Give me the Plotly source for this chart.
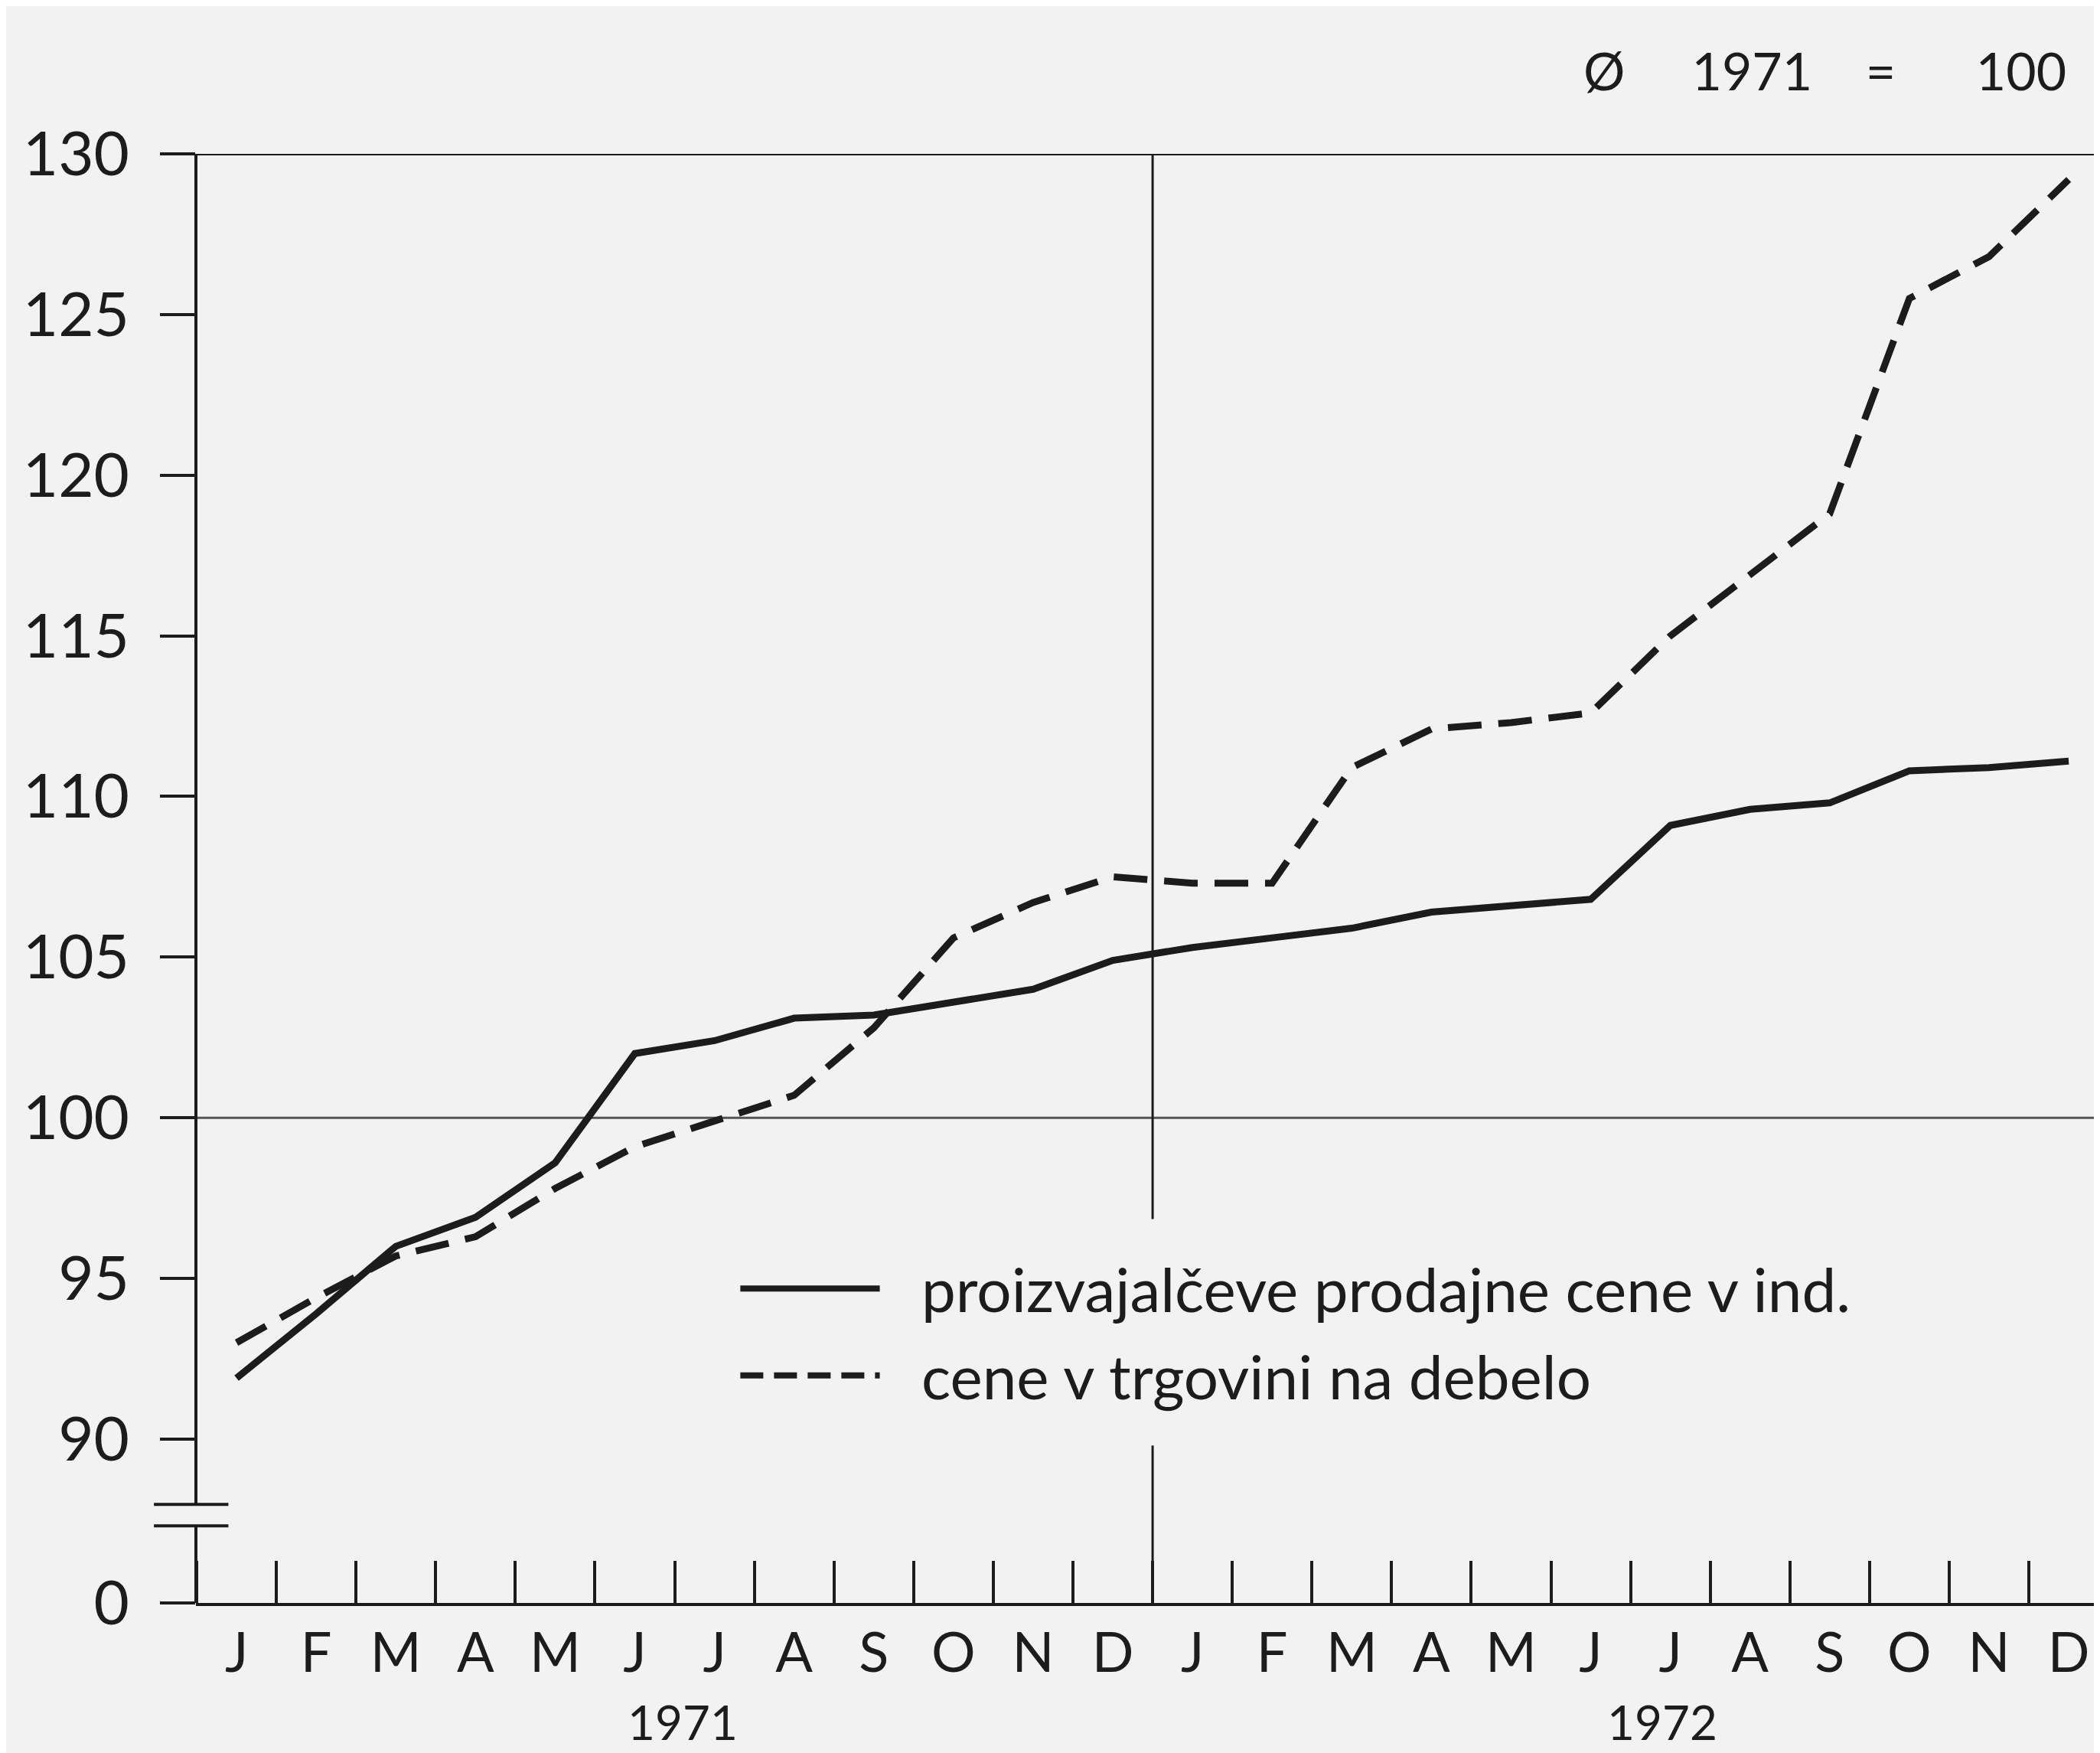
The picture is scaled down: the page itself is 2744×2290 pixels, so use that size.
import plotly.graph_objects as go

# months of 1971 and 1972
months = ["J", "F", "M", "A", "M", "J", "J", "A", "S", "O", "N", "D"] * 2
years = ["1971", "1972"]

# index, average 1971 = 100
producer_prices = [91.9, 93.9, 96.0, 96.9, 98.6, 102.0, 102.4, 103.1, 103.2, 103.6, 104.0, 104.9,
                   105.3, 105.6, 105.9, 106.4, 106.6, 106.8, 109.1, 109.6, 109.8, 110.8, 110.9, 111.1]
wholesale_prices = [93.0, 94.4, 95.7, 96.3, 97.8, 99.1, 99.9, 100.7, 102.8, 105.6, 106.7, 107.5,
                    107.3, 107.3, 110.9, 112.1, 112.3, 112.6, 115.0, 116.9, 118.8, 125.5, 126.8, 129.2]

series_names = ["proizvajalčeve prodajne cene v ind.", "cene v trgovini na debelo"]

# broken y axis: the "0" sits just below the break
y_floor = 84.9
ytick_vals = [y_floor, 90, 95, 100, 105, 110, 115, 120, 125, 130]
ytick_text = ["0", "90", "95", "100", "105", "110", "115", "120", "125", "130"]

ink = "#1c1c1c"
bg = "#f2f2f2"
font = "Lato"

x = list(range(len(months)))

fig = go.Figure()
fig.add_trace(go.Scatter(
    x=x, y=producer_prices, mode="lines", name=series_names[0],
    line=dict(color=ink, width=9), showlegend=False,
))
fig.add_trace(go.Scatter(
    x=x, y=wholesale_prices, mode="lines", name=series_names[1],
    line=dict(color=ink, width=9, dash="44px,22px"), showlegend=False,
))

shapes = [
    # y axis with a break
    dict(type="line", xref="paper", yref="y", x0=0, x1=0, y0=y_floor, y1=87.3,
         line=dict(color=ink, width=4)),
    dict(type="line", xref="paper", yref="y", x0=0, x1=0, y0=87.97, y1=130,
         line=dict(color=ink, width=4)),
    dict(type="line", xref="paper", yref="y", x0=-0.022, x1=0.017, y0=87.3, y1=87.3,
         line=dict(color=ink, width=4)),
    dict(type="line", xref="paper", yref="y", x0=-0.022, x1=0.017, y0=87.97, y1=87.97,
         line=dict(color=ink, width=4)),
    # top frame line and base 100 line
    dict(type="line", xref="paper", yref="y", x0=0, x1=1, y0=130, y1=130,
         line=dict(color=ink, width=4)),
    dict(type="line", xref="paper", yref="y", x0=0, x1=1, y0=100, y1=100,
         line=dict(color="#555555", width=3), layer="below"),
    # year separator, interrupted by the legend
    dict(type="line", xref="x", yref="y", x0=11.5, x1=11.5, y0=96.85, y1=130,
         line=dict(color=ink, width=3), layer="below"),
    dict(type="line", xref="x", yref="y", x0=11.5, x1=11.5, y0=y_floor, y1=89.8,
         line=dict(color=ink, width=3), layer="below"),
    # legend samples
    dict(type="line", xref="paper", yref="paper", x0=0.285, x1=0.358, y0=0.217, y1=0.217,
         line=dict(color=ink, width=8)),
    dict(type="line", xref="paper", yref="paper", x0=0.285, x1=0.358, y0=0.157, y1=0.157,
         line=dict(color=ink, width=8, dash="30px,14px")),
]

annotations = [
    dict(text=series_names[0], xref="paper", yref="paper", x=0.379, y=0.217,
         xanchor="left", yanchor="middle", showarrow=False,
         font=dict(family=font, size=80, color=ink)),
    dict(text=series_names[1], xref="paper", yref="paper", x=0.379, y=0.157,
         xanchor="left", yanchor="middle", showarrow=False,
         font=dict(family=font, size=80, color=ink)),
    dict(text="Ø     1971    =      100", xref="paper", yref="paper", x=0.98, y=1.058,
         xanchor="right", yanchor="middle", showarrow=False,
         font=dict(family=font, size=68, color=ink)),
    dict(text=years[0], xref="x", yref="paper", x=5.6, y=-0.063,
         xanchor="center", yanchor="top", showarrow=False, height=68,
         font=dict(family=font, size=62, color=ink)),
    dict(text=years[1], xref="x", yref="paper", x=17.9, y=-0.063,
         xanchor="center", yanchor="top", showarrow=False, height=68,
         font=dict(family=font, size=62, color=ink)),
]

fig.update_layout(
    width=2744, height=2290,
    paper_bgcolor=bg, plot_bgcolor=bg,
    margin=dict(l=248, r=0, t=193, b=204),
    font=dict(family=font, color=ink),
    shapes=shapes, annotations=annotations,
    xaxis=dict(
        range=[-0.51, 23.47], showgrid=False, zeroline=False,
        showline=True, linecolor=ink, linewidth=4,
        tickmode="array", tickvals=x, ticktext=months, ticks="",
        tickfont=dict(family=font, size=72, color=ink), ticklabelstandoff=0,
        minor=dict(tickmode="linear", tick0=0.5, dtick=1, ticks="inside",
                   ticklen=55, tickwidth=4, tickcolor=ink, showgrid=False),
    ),
    yaxis=dict(
        range=[y_floor, 130], showgrid=False, zeroline=False, showline=False,
        tickmode="array", tickvals=ytick_vals, ticktext=ytick_text,
        ticks="outside", ticklen=46, tickwidth=4, tickcolor=ink,
        tickfont=dict(family=font, size=80, color=ink), ticklabelstandoff=24,
    ),
)

fig.write_html("out.html")
